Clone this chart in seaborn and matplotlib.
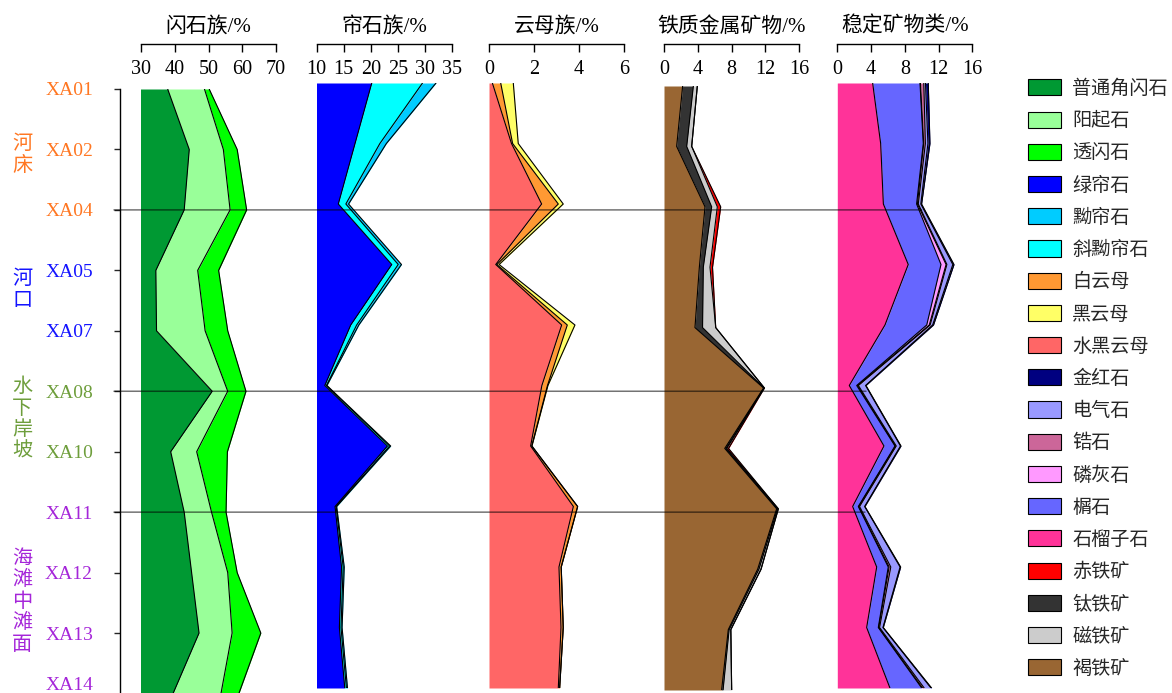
import numpy as np
import matplotlib
matplotlib.use("Agg")
import matplotlib.pyplot as plt
import seaborn as sns
from matplotlib.patches import Patch, ConnectionPatch
from matplotlib.transforms import blended_transform_factory

# ---------------- data ----------------
samples = ["XA01", "XA02", "XA04", "XA05", "XA07", "XA08",
           "XA10", "XA11", "XA12", "XA13", "XA14"]
sample_colors = ["#FF7722"] * 3 + ["#1414FF"] * 2 + ["#6E9E3C"] * 2 + ["#A526D9"] * 4
zones = ["河床", "河口", "水下岸坡", "海滩中滩面"]
zone_colors = ["#FF7722", "#1414FF", "#6E9E3C", "#A526D9"]
zone_centers = [1.08, 3.32, 5.46, 8.47]   # in sample-index units
boundaries = [2, 5, 7]                   # XA04, XA08, XA11

# amphibole group (%)
hornblende = [37.9, 44.3, 42.8, 34.4, 34.6, 51.1, 38.8, 42.8, 45.0, 47.2, 39.5]
actinolite = [10.9, 10.1, 13.6, 12.4, 14.4, 4.6, 7.7, 8.1, 10.7, 9.8, 14.2]
tremolite = [1.4, 4.1, 4.9, 6.2, 6.7, 5.4, 9.1, 4.3, 2.8, 8.5, 5.3]

# epidote group (%)
epidote = [20.2, 17.1, 14.0, 23.9, 16.3, 11.5, 23.1, 13.4, 14.6, 14.2, 15.2]
clinozoisite = [9.4, 4.6, 1.4, 1.2, 1.1, 0.3, 0.4, 0.2, 0.3, 0.3, 0.3]
zoisite = [2.5, 1.2, 0.5, 0.6, 0.4, 0.1, 0.2, 0.1, 0.2, 0.2, 0.2]

# mica group (%)
hydrobiotite = [0.15, 1.00, 2.34, 0.30, 3.23, 2.35, 1.85, 3.75, 3.11, 3.20, 3.08]
muscovite = [0.37, 0.05, 0.74, 0.05, 0.25, 0.25, 0.05, 0.19, 0.10, 0.10, 0.06]
biotite = [0.56, 0.25, 0.22, 0.10, 0.34, 0.02, 0.01, 0.0, 0.0, 0.0, 0.0]

# iron-bearing metallic minerals (%)
limonite = [2.21, 1.50, 4.86, 4.19, 3.67, 11.80, 7.20, 13.35, 11.10, 7.62, 6.83]
ilmenite = [1.27, 1.19, 0.79, 0.47, 0.90, 0.05, 0.15, 0.10, 0.15, 0.10, 0.17]
magnetite = [0.47, 0.59, 0.67, 0.79, 1.56, 0.05, 0.10, 0.10, 0.25, 0.20, 1.02]
hematite = [0.0, 0.0, 0.40, 0.30, 0.0, 0.0, 0.20, 0.0, 0.0, 0.0, 0.0]

# stable minerals (%)
garnet = [4.19, 5.14, 5.46, 8.41, 5.65, 1.42, 5.53, 1.82, 4.67, 3.48, 6.24]
titanite = [5.61, 5.05, 3.94, 3.88, 4.95, 0.88, 1.31, 0.67, 1.37, 1.38, 3.76]
apatite = [0.05, 0.05, 0.10, 0.60, 0.30, 0.10, 0.05, 0.05, 0.10, 0.05, 0.10]
zircon = [0.40, 0.20, 0.10, 0.10, 0.10, 0.10, 0.10, 0.10, 0.20, 0.10, 0.20]
tourmaline = [0.20, 0.30, 0.30, 0.70, 0.30, 0.85, 0.50, 0.60, 1.10, 0.40, 0.80]
rutile = [0.33, 0.24, 0.09, 0.14, 0.10, 0.05, 0.06, 0.04, 0.07, 0.04, 0.08]

panels = [
    dict(title="闪石族/%", xlim=(30, 70), ticks=[30, 40, 50, 60, 70], x0=141, top=89, bottom=693.5,
         layers=[("普通角闪石", hornblende, "#009933"), ("阳起石", actinolite, "#99FF99"),
                 ("透闪石", tremolite, "#00FF00")]),
    dict(title="帘石族/%", xlim=(10, 35), ticks=[10, 15, 20, 25, 30, 35], x0=316.7, top=83, bottom=688,
         layers=[("绿帘石", epidote, "#0000FF"), ("斜黝帘石", clinozoisite, "#00FFFF"),
                 ("黝帘石", zoisite, "#00CCFF")]),
    dict(title="云母族/%", xlim=(0, 6), ticks=[0, 2, 4, 6], x0=489, top=83, bottom=688,
         layers=[("水黑云母", hydrobiotite, "#FF6666"), ("白云母", muscovite, "#FF9933"),
                 ("黑云母", biotite, "#FFFF66")]),
    dict(title="铁质金属矿物/%", xlim=(0, 16), ticks=[0, 4, 8, 12, 16], x0=664, top=86, bottom=690,
         layers=[("褐铁矿", limonite, "#996633"), ("钛铁矿", ilmenite, "#333333"),
                 ("磁铁矿", magnetite, "#CCCCCC"), ("赤铁矿", hematite, "#FF0000")]),
    dict(title="稳定矿物类/%", xlim=(0, 16), ticks=[0, 4, 8, 12, 16], x0=837.3, top=83, bottom=688,
         layers=[("石榴子石", garnet, "#FF3399"), ("榍石", titanite, "#6666FF"),
                 ("磷灰石", apatite, "#FF99FF"), ("锆石", zircon, "#CC6699"),
                 ("电气石", tourmaline, "#9999FF"), ("金红石", rutile, "#000080")]),
]

legend_order = ["普通角闪石", "阳起石", "透闪石", "绿帘石", "黝帘石", "斜黝帘石",
                "白云母", "黑云母", "水黑云母", "金红石", "电气石", "锆石", "磷灰石",
                "榍石", "石榴子石", "赤铁矿", "钛铁矿", "磁铁矿", "褐铁矿"]

# ---------------- figure ----------------
sns.set_theme(style="white")
plt.rcParams["font.family"] = ["Liberation Serif", "Noto Sans CJK SC"]
plt.rcParams["axes.linewidth"] = 1.0

W, H = 1172, 693
fig = plt.figure(figsize=(W / 100, H / 100), dpi=100)
PT = 72 / 100  # points per pixel


def box(x0, y0, x1, y1):
    return fig.add_axes([x0 / W, 1 - y1 / H, (x1 - x0) / W, (y1 - y0) / H])


idx = np.arange(len(samples))
colors = {}
axes = []
for p in panels:
    ax = box(p["x0"], p["top"], p["x0"] + 135, p["bottom"])
    ax.set_xlim(*p["xlim"])
    ax.set_ylim(len(samples) - 1, 0)
    cum = np.zeros(len(samples))
    for name, vals, col in p["layers"]:
        colors[name] = col
        right = cum + np.asarray(vals)
        ax.fill_betweenx(idx, cum, right, color=col, lw=0, zorder=1)
        sns.lineplot(x=right, y=idx, orient="y", sort=False, estimator=None,
                     color="black", lw=0.8, ax=ax, zorder=2)
        cum = right
    p["total"] = cum
    for s in ax.spines.values():
        s.set_visible(False)
    ax.set_xticks([])
    ax.set_yticks([])
    ax.set_xlabel("")
    ax.set_ylabel("")
    ax.patch.set_alpha(0)

    # scale bar on top
    tax = fig.add_axes([p["x0"] / W, 1 - 44 / H, 135 / W, 0.0001])
    tax.set_xlim(*p["xlim"])
    tax.set_yticks([])
    for k, s in tax.spines.items():
        s.set_visible(k == "bottom")
    tax.spines["bottom"].set_color("black")
    tax.spines["bottom"].set_linewidth(1.0)
    tax.set_xticks(p["ticks"])
    tax.set_xticklabels([str(t) for t in p["ticks"]])
    tax.tick_params(axis="x", direction="out", length=8 * PT, width=1.0,
                    labelsize=14.5, pad=8 * PT, colors="black", bottom=True)
    tax.patch.set_alpha(0)
    tax.set_title(p["title"], fontsize=15, pad=12 * PT, color="black")
    axes.append(ax)

# sample axis on the first panel
ax1 = axes[0]
ax1.spines["left"].set_visible(True)
ax1.spines["left"].set_color("black")
ax1.spines["left"].set_position(("outward", 21 * PT))
ax1.set_yticks(idx)
ax1.set_yticklabels(samples)
ax1.tick_params(axis="y", direction="out", length=6 * PT, width=1.0, labelsize=14,
                pad=21 * PT, left=True)
ylabels = ax1.get_yticklabels()
for lab, c in zip(ylabels, sample_colors):
    lab.set_color(c)
ylabels[-1].set_va("bottom")   # keep the last sample name inside the canvas

# zone names, written vertically
ytr = ax1.transData
for name, c, yc in zip(zones, zone_colors, zone_centers):
    n = len(name)
    for k, ch in enumerate(name):
        off = (k - (n - 1) / 2) * 21.5 / 60.4
        ax1.text(-0.88, yc + off, ch, transform=blended_transform_factory(ax1.transAxes, ytr),
                 ha="center", va="center", fontsize=14.5, color=c,
                 family=["Noto Sans CJK SC"])

# zone boundary lines running across the panels
ax5 = axes[-1]
for b in boundaries:
    con = ConnectionPatch(xyA=(-0.2, b), coordsA=blended_transform_factory(ax1.transAxes, ytr),
                          xyB=(panels[-1]["total"][b], b),
                          coordsB=blended_transform_factory(ax5.transData, ytr),
                          color="black", alpha=0.55, lw=1.1, zorder=5)
    fig.add_artist(con)

# legend
handles = [Patch(facecolor=colors[n], edgecolor="black", lw=0.8) for n in legend_order]
fig.legend(handles, legend_order, loc="upper left", bbox_to_anchor=(1028 / W, 1 - 78 / H),
           frameon=False, handlelength=1.71, handleheight=0.92,
           handletextpad=0.6, labelspacing=0.585, borderaxespad=0, borderpad=0,
           prop={"family": ["Noto Sans CJK SC"], "size": 13.8})

fig.savefig("out.png", dpi=100)
